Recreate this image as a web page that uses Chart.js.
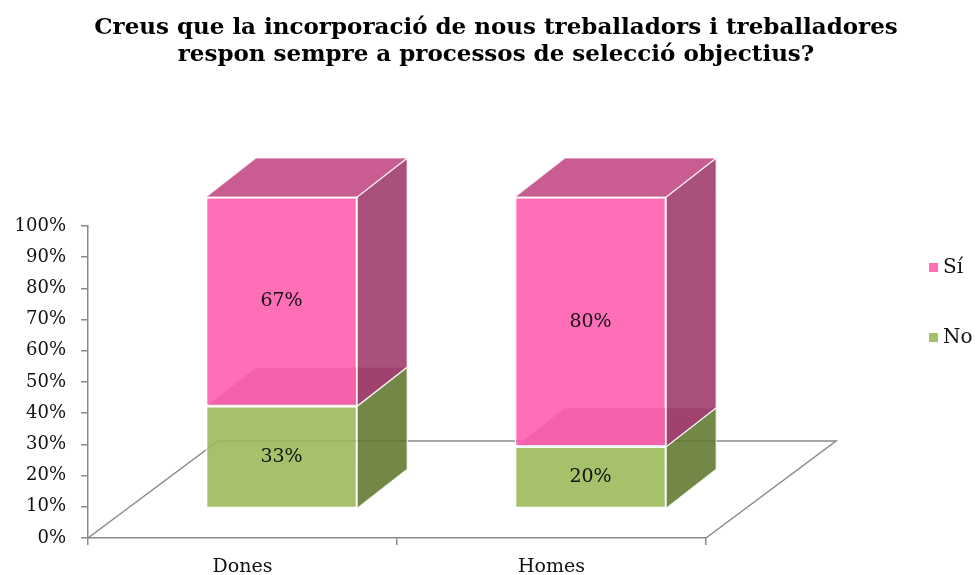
<!DOCTYPE html>
<html>
<head>
<meta charset="utf-8">
<script src="https://cdn.jsdelivr.net/npm/chart.js@4.4.1/dist/chart.umd.min.js"></script>
<style>
  html, body { margin: 0; padding: 0; background: #fff; }
  #wrap { width: 976px; height: 575px; }
</style>
</head>
<body>
<div id="wrap"><canvas id="chart"></canvas></div>
<script>
/* ---------- data ---------- */
const categories = ["Dones", "Homes"];
const noValues = [33, 20];
const siValues = [67, 80];
const seriesNames = ["No", "Sí"];
const yTicks = [0, 10, 20, 30, 40, 50, 60, 70, 80, 90, 100];
const titleLines = [
  "Creus que la incorporació de nous treballadors i treballadores",
  "respon sempre a processos de selecció objectius?"
];

/* ---------- look ---------- */
const FONT = "'DejaVu Serif', Georgia, serif";
const AXIS_COLOR = "#8a8a8a";
const FLOOR_DX = 130, FLOOR_DY = -97;      // depth of the floor
const FRONT_DX = 39, FRONT_DY = -29;       // bars sit 30% into the floor
const DEPTH_DX = 50, DEPTH_DY = -39;       // depth of each box
const EDGE = "rgba(255,255,255,0.8)";

const faces = [
  { front: "rgba(152,185,87,0.88)", side: "rgba(96,118,46,0.88)", top: "rgba(150,175,90,0.88)", bottom: null, legend: "#a4c16b" },
  { front: "rgba(255,91,174,0.88)", side: "rgba(158,56,107,0.88)", top: "rgba(193,69,130,0.88)", bottom: "#a08c8c", legend: "#ff6fb8" }
];

function poly(ctx, pts, fill) {
  ctx.beginPath();
  ctx.moveTo(pts[0][0], pts[0][1]);
  for (let i = 1; i < pts.length; i++) ctx.lineTo(pts[i][0], pts[i][1]);
  ctx.closePath();
  ctx.fillStyle = fill;
  ctx.fill();
  ctx.strokeStyle = EDGE;
  ctx.lineWidth = 1.2;
  ctx.stroke();
}

function boxOf(el) {
  const p = el.getProps(["x", "y", "base", "width"], true);
  return {
    l: p.x - p.width / 2 + FRONT_DX,
    r: p.x + p.width / 2 + FRONT_DX,
    t: Math.min(p.y, p.base) + FRONT_DY,
    b: Math.max(p.y, p.base) + FRONT_DY
  };
}

/* floor + side/top faces behind, front faces shifted into depth */
const bar3d = {
  id: "bar3d",
  beforeDatasetsDraw(chart) {
    const { ctx, chartArea: a } = chart;
    ctx.save();
    ctx.strokeStyle = AXIS_COLOR;
    ctx.lineWidth = 1.5;
    ctx.beginPath();
    ctx.moveTo(a.left, a.bottom);
    ctx.lineTo(a.left + FLOOR_DX, a.bottom + FLOOR_DY);
    ctx.lineTo(a.right + FLOOR_DX, a.bottom + FLOOR_DY);
    ctx.lineTo(a.right, a.bottom);
    ctx.stroke();

    const last = chart.data.datasets.length - 1;
    chart.data.datasets.forEach((ds, i) => {
      const f = faces[i];
      chart.getDatasetMeta(i).data.forEach(el => {
        const { l, r, t, b } = boxOf(el);
        if (f.bottom) poly(ctx, [[l, b], [r, b], [r + DEPTH_DX, b + DEPTH_DY], [l + DEPTH_DX, b + DEPTH_DY]], f.bottom);
        poly(ctx, [[r, t], [r + DEPTH_DX, t + DEPTH_DY], [r + DEPTH_DX, b + DEPTH_DY], [r, b]], f.side);
        if (i === last) poly(ctx, [[l, t], [r, t], [r + DEPTH_DX, t + DEPTH_DY], [l + DEPTH_DX, t + DEPTH_DY]], f.top);
      });
    });
    ctx.translate(FRONT_DX, FRONT_DY);
  },
  afterDatasetsDraw(chart) {
    const { ctx } = chart;
    ctx.restore();

    // value labels on the front faces
    ctx.save();
    ctx.font = "19px " + FONT;
    ctx.fillStyle = "#111";
    ctx.textAlign = "center";
    ctx.textBaseline = "middle";
    chart.data.datasets.forEach((ds, i) => {
      chart.getDatasetMeta(i).data.forEach((el, j) => {
        const { l, r, t, b } = boxOf(el);
        ctx.fillText(ds.data[j] + "%", (l + r) / 2, (t + b) / 2);
      });
    });
    ctx.restore();
  },
  afterDraw(chart) {
    // legend, top series first
    const { ctx } = chart;
    ctx.save();
    ctx.font = "20px " + FONT;
    ctx.textBaseline = "middle";
    const order = chart.data.datasets.map((d, i) => i).reverse();
    order.forEach((i, k) => {
      const y = 268 + k * 70;
      ctx.fillStyle = faces[i].legend;
      ctx.fillRect(929, y - 5, 9, 9);
      ctx.fillStyle = "#111";
      ctx.fillText(chart.data.datasets[i].label, 943, y);
    });
    ctx.restore();
  }
};

new Chart(document.getElementById("chart"), {
  type: "bar",
  data: {
    labels: categories,
    datasets: [
      { label: seriesNames[0], data: noValues },
      { label: seriesNames[1], data: siValues }
    ].map((d, i) => Object.assign(d, {
      backgroundColor: faces[i].front,
      borderColor: EDGE,
      borderWidth: 1.5,
      borderSkipped: false,
      barPercentage: 0.49,
      categoryPercentage: 1
    }))
  },
  options: {
    responsive: true,
    maintainAspectRatio: false,
    animation: false,
    layout: { padding: { left: 16, right: 0, top: 0, bottom: 0 } },
    plugins: {
      legend: { display: false },
      tooltip: { enabled: false },
      title: {
        display: true,
        text: titleLines,
        color: "#000",
        font: { family: FONT, size: 23, weight: "bold", lineHeight: 1.17 },
        padding: { top: 15, bottom: 157.2 }
      }
    },
    scales: {
      x: {
        stacked: true,
        grid: { display: true, drawOnChartArea: false, drawTicks: true, tickLength: 7, color: AXIS_COLOR, lineWidth: 1.5, offset: true },
        border: { display: true, color: AXIS_COLOR, width: 1.5 },
        ticks: { color: "#111", font: { family: FONT, size: 19 }, padding: 11 },
        afterFit: s => { s.height = 37; }
      },
      y: {
        stacked: true,
        min: 0,
        max: 100,
        afterBuildTicks: s => { s.ticks = yTicks.map(v => ({ value: v })); },
        grid: { display: true, drawOnChartArea: false, drawTicks: true, tickLength: 7, color: AXIS_COLOR, lineWidth: 1.5 },
        border: { display: true, color: AXIS_COLOR, width: 1.5 },
        ticks: { color: "#111", font: { family: FONT, size: 18 }, padding: 15, callback: v => v + "%" },
        afterFit: s => { s.width = 72; }
      },
      y2: {
        position: "right",
        display: true,
        grid: { display: false },
        border: { display: false },
        ticks: { display: false },
        afterFit: s => { s.width = 270; }
      }
    }
  },
  plugins: [bar3d]
});
</script>
</body>
</html>
